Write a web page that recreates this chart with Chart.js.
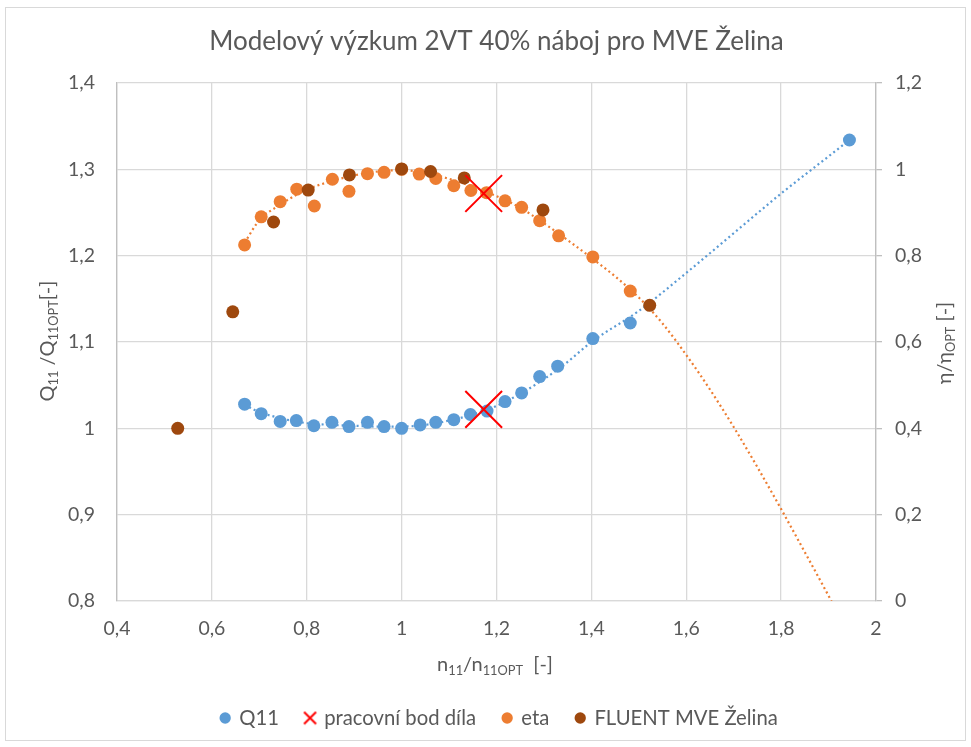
<!DOCTYPE html>
<html><head><meta charset="utf-8">
<script src="https://cdn.jsdelivr.net/npm/chart.js@4.4.0/dist/chart.umd.min.js"></script>
<style>html,body{margin:0;padding:0;background:#fff}</style>
</head><body>
<canvas id="c" width="971" height="747" style="width:971px;height:747px;display:block"></canvas>
<script>
// ---------- data ----------
const titleText = 'Modelový výzkum 2VT 40% náboj pro MVE Želina';
const seriesNames = ['Q11', 'pracovní bod díla', 'eta', 'FLUENT MVE Želina'];

const q11N = [0.669,0.704,0.744,0.778,0.815,0.853,0.889,0.928,0.963,1.000,1.039,1.072,1.110,1.145,1.180,1.218,1.253,1.291,1.329,1.403,1.482,1.944];
const q11V = [1.028,1.017,1.008,1.009,1.003,1.007,1.002,1.007,1.002,1.000,1.004,1.007,1.010,1.016,1.020,1.031,1.041,1.060,1.072,1.104,1.122,1.334];

const workN = [1.173,1.173];
const workV = [1.022,1.272];

const etaN = [0.669,0.704,0.744,0.779,0.816,0.854,0.889,0.928,0.963,1.000,1.037,1.072,1.110,1.146,1.179,1.218,1.253,1.291,1.331,1.403,1.482];
const etaV = [0.825,0.890,0.925,0.954,0.915,0.977,0.949,0.990,0.993,1.000,0.989,0.979,0.962,0.951,0.946,0.927,0.912,0.881,0.846,0.797,0.718];

const fluentN = [0.528,0.644,0.730,0.803,0.890,1.000,1.061,1.132,1.298,1.523];
const fluentV = [0.400,0.670,0.878,0.952,0.987,1.001,0.995,0.980,0.906,0.685];

// dotted trendlines as seen in the picture
const q11TrendN = [0.669,0.70,0.75,0.80,0.85,0.90,0.95,1.00,1.05,1.10,1.15,1.20,1.25,1.30,1.35,1.40,1.50,1.60,1.70,1.80,1.90,1.944];
const q11TrendV = [1.027,1.019,1.011,1.006,1.004,1.003,1.002,1.002,1.004,1.009,1.016,1.026,1.040,1.057,1.077,1.100,1.136,1.180,1.226,1.272,1.315,1.334];

const etaTrendN = [0.669,0.70,0.744,0.78,0.80,0.85,0.90,0.95,1.00,1.05,1.10,1.15,1.20,1.25,1.30,1.35,1.40,1.45,1.50,1.55,1.60,1.65,1.70,1.75,1.80,1.85,1.90,1.92];
const etaTrendV = [0.830,0.882,0.918,0.942,0.953,0.972,0.986,0.995,0.998,0.992,0.978,0.960,0.938,0.911,0.875,0.836,0.795,0.752,0.703,0.643,0.570,0.490,0.403,0.310,0.213,0.113,0.012,-0.030];

const xTicks = {min:0.4, max:2.0, step:0.2};
const yTicks = {min:0.8, max:1.4, step:0.1};
const y2Ticks = {min:0, max:1.2, step:0.2};

// ---------- styling ----------
const BLUE='#5B9BD5', ORANGE='#ED7D31', BROWN='#9E480E', RED='#FF0000';
const TXT='#595959', GRID='#D9D9D9', AXIS='#BFBFBF';
const FAM = 'Lato, "Noto Sans", "DejaVu Sans", sans-serif';

const canvas = document.getElementById('c');
const ctx = canvas.getContext('2d');
function fitSize(text, target){ ctx.font = '100px ' + FAM; return target / ctx.measureText(text).width * 100; }

const titleSize = fitSize(titleText, 575);
const legendSize = fitSize(seriesNames[1], 152);
const tickSize = fitSize('0,4', 27);

const PLOT = {left:117, right:876, top:83, bottom:601};
const legendPad = 27;
const legendCenterY = 718;
const legendBottom = legendCenterY + 10 + legendSize/2;
const legendH = legendSize + legendPad + 10;
const layoutBottom = 747 - legendBottom;
const xAxisH = (legendBottom - legendH) - PLOT.bottom;
const titleLH = titleSize * 1.2;
const titlePadTop = 42 - titleLH/2;
const titlePadBottom = PLOT.top - titlePadTop - titleLH;

function fmt(v){ return String(Math.round(v*100)/100).replace('.', ','); }
function pts(xs, ys){ return xs.map((x,i)=>({x:x, y:ys[i]})); }

// legend X symbol
const xImg = document.createElement('canvas'); xImg.width = 15; xImg.height = 15;
(function(){ const g = xImg.getContext('2d'); g.strokeStyle = RED; g.lineWidth = 2;
  g.beginPath(); g.moveTo(1.5,1.5); g.lineTo(13.5,13.5); g.moveTo(13.5,1.5); g.lineTo(1.5,13.5); g.stroke(); })();

function drawRich(c, parts, size, cx, by, rot){
  c.save(); c.translate(cx, by); c.rotate(rot);
  const sub = size*0.64;
  let total = 0;
  parts.forEach(p=>{ c.font = (p[1]?sub:size)+'px '+FAM; p.w = c.measureText(p[0]).width; total += p.w; });
  let x = -total/2; c.fillStyle = TXT; c.textBaseline = 'alphabetic'; c.textAlign = 'left';
  parts.forEach(p=>{ c.font = (p[1]?sub:size)+'px '+FAM; c.fillText(p[0], x, p[1]? size*0.2 : 0); x += p.w; });
  c.restore();
}

const extras = {
  id:'extras',
  beforeDraw(chart){
    const c = chart.ctx; c.save(); c.fillStyle = '#fff'; c.fillRect(0,0,chart.width,chart.height); c.restore();
  },
  afterLayout(chart){
    if (chart.legend){ chart.legend.left += 14; chart.legend.right += 14; }
    if (chart.titleBlock){ chart.titleBlock.left += 11; chart.titleBlock.right += 11; }
  },
  afterDraw(chart){
    const c = chart.ctx;
    c.save(); c.strokeStyle = GRID; c.lineWidth = 1; c.strokeRect(5.5, 7.5, 960, 733); c.restore();
    const axSize = 20;
    drawRich(c, [['n',0],['11',1],['/n',0],['11OPT',1],['  [-]',0]], axSize, 495, 671, 0);
    drawRich(c, [['Q',0],['11',1],[' /Q',0],['11OPT',1],['[-]',0]], axSize, 54, 341, -Math.PI/2);
    drawRich(c, [['η/η',0],['OPT',1],[' [-]',0]], axSize, 951, 343, -Math.PI/2);
  }
};

const circle = (label, xs, ys, color, axis, order) => ({
  label, data: pts(xs, ys), yAxisID: axis, backgroundColor: color, borderColor: color,
  pointRadius: 6.5, pointHoverRadius: 6.5, pointBorderWidth: 0, borderWidth: 0, order
});

new Chart(ctx, {
  type: 'scatter',
  data: { datasets: [
    circle(seriesNames[0], q11N, q11V, BLUE, 'y', 3),
    { label: seriesNames[1], data: pts(workN, workV), yAxisID: 'y', pointStyle: 'crossRot',
      pointRadius: 26, pointHoverRadius: 26, borderColor: RED, backgroundColor: RED, borderWidth: 2, pointBorderWidth: 2, order: 0 },
    circle(seriesNames[2], etaN, etaV, ORANGE, 'y2', 2),
    circle(seriesNames[3], fluentN, fluentV, BROWN, 'y2', 1),
    { label: 'trendQ', data: pts(q11TrendN, q11TrendV), yAxisID: 'y', showLine: true, pointRadius: 0,
      borderColor: BLUE, borderWidth: 2.2, borderDash: [2,3], cubicInterpolationMode: 'monotone', order: 5 },
    { label: 'trendEta', data: pts(etaTrendN, etaTrendV), yAxisID: 'y2', showLine: true, pointRadius: 0,
      borderColor: ORANGE, borderWidth: 2.2, borderDash: [2,3], cubicInterpolationMode: 'monotone', order: 5 }
  ]},
  options: {
    responsive: false, animation: false, devicePixelRatio: 1, events: [],
    layout: { padding: { left: 0, right: 0, top: 0, bottom: layoutBottom } },
    plugins: {
      tooltip: { enabled: false },
      title: { display: true, text: titleText, color: TXT, font: { family: FAM, size: titleSize, weight: 'normal' },
        padding: { top: titlePadTop, bottom: titlePadBottom } },
      legend: { position: 'bottom', align: 'center',
        labels: { usePointStyle: true, boxWidth: 8, boxHeight: 8, padding: legendPad, color: TXT,
          font: { family: FAM, size: legendSize },
          filter: (item) => item.datasetIndex < 4,
          sort: (a,b) => a.datasetIndex - b.datasetIndex,
          generateLabels: (chart) => {
            const items = Chart.defaults.plugins.legend.labels.generateLabels(chart);
            items.forEach(it => { if (it.datasetIndex === 1) { it.pointStyle = xImg; } });
            return items;
          }
        } }
    },
    scales: {
      x: { type: 'linear', position: 'bottom', min: xTicks.min, max: xTicks.max,
        afterFit: s => { s.height = xAxisH; },
        afterBuildTicks: s => { const t=[]; for (let v=xTicks.min; v<=xTicks.max+1e-9; v+=xTicks.step) t.push({value: Math.round(v*100)/100}); s.ticks = t; },
        ticks: { color: TXT, font: { family: FAM, size: tickSize }, padding: 629 - PLOT.bottom - tickSize*0.6, callback: v => fmt(v), maxRotation: 0, autoSkip: false },
        grid: { color: GRID, lineWidth: 1.3, drawTicks: false },
        border: { color: GRID, width: 1.3 } },
      y: { type: 'linear', position: 'left', min: yTicks.min, max: yTicks.max,
        afterFit: s => { s.width = PLOT.left; },
        afterBuildTicks: s => { const t=[]; for (let v=yTicks.min; v<=yTicks.max+1e-9; v+=yTicks.step) t.push({value: Math.round(v*100)/100}); s.ticks = t; },
        ticks: { color: TXT, font: { family: FAM, size: tickSize }, padding: 22, callback: v => fmt(v) },
        grid: { color: GRID, lineWidth: 1.3, drawTicks: false },
        border: { color: AXIS, width: 1.3 } },
      y2: { type: 'linear', position: 'right', min: y2Ticks.min, max: y2Ticks.max,
        afterFit: s => { s.width = 971 - PLOT.right; },
        afterBuildTicks: s => { const t=[]; for (let v=y2Ticks.min; v<=y2Ticks.max+1e-9; v+=y2Ticks.step) t.push({value: Math.round(v*100)/100}); s.ticks = t; },
        ticks: { color: TXT, font: { family: FAM, size: tickSize }, padding: 13, callback: v => fmt(v) },
        grid: { drawOnChartArea: false, drawTicks: true, tickLength: 6, tickColor: AXIS, lineWidth: 1.3 },
        border: { color: AXIS, width: 1.3 } }
    }
  },
  plugins: [extras]
});
</script>
</body></html>
